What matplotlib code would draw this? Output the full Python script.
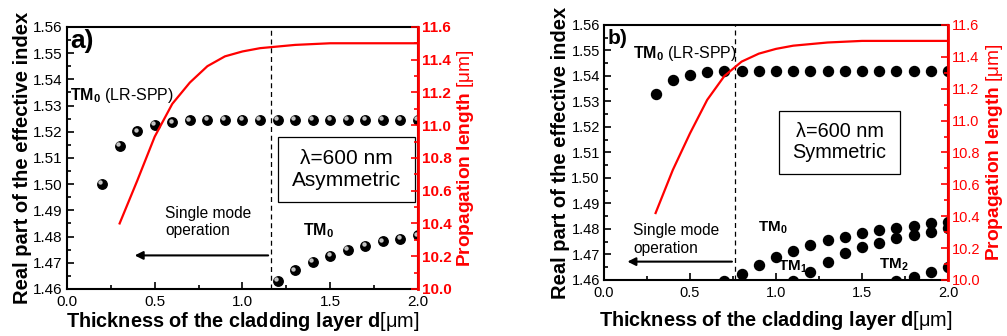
import numpy as np
import matplotlib
matplotlib.use("Agg")
import matplotlib.pyplot as plt
from matplotlib.ticker import MultipleLocator, FormatStrFormatter
from matplotlib.patches import Rectangle
from matplotlib.transforms import offset_copy

plt.rcParams['font.family'] = ['Liberation Sans', 'DejaVu Sans']
plt.rcParams['mathtext.fontset'] = 'custom'
plt.rcParams['mathtext.rm'] = 'Liberation Sans'
plt.rcParams['mathtext.bf'] = 'Liberation Sans:bold'
plt.rcParams['mathtext.it'] = 'Liberation Sans:italic'

# ---- panel a (asymmetric) ----
xa_lr = [0.2, 0.3, 0.4, 0.5, 0.6, 0.7, 0.8, 0.9, 1.0, 1.1, 1.2, 1.3, 1.4,
         1.5, 1.6, 1.7, 1.8, 1.9, 2.0]
na_lr = [1.500, 1.5146, 1.5202, 1.5225, 1.5236, 1.5244, 1.5245, 1.5245,
         1.5245, 1.5245, 1.5245, 1.5245, 1.5245, 1.5245, 1.5245, 1.5245,
         1.5245, 1.5245, 1.5245]
xa_tm0 = [1.2, 1.3, 1.4, 1.5, 1.6, 1.7, 1.8, 1.9, 2.0]
na_tm0 = [1.4632, 1.4671, 1.4703, 1.4727, 1.4750, 1.4765, 1.4782, 1.4792, 1.4804]
xa_L = [0.3, 0.4, 0.5, 0.6, 0.7, 0.8, 0.9, 1.0, 1.1, 1.2, 1.3, 1.5, 2.0]
La = [10.40, 10.66, 10.93, 11.13, 11.26, 11.36, 11.42, 11.45, 11.47,
      11.48, 11.49, 11.50, 11.50]
cut_a = 1.162

# ---- panel b (symmetric) ----
xb_lr = [0.3, 0.4, 0.5, 0.6, 0.7, 0.8, 0.9, 1.0, 1.1, 1.2, 1.3, 1.4, 1.5,
         1.6, 1.7, 1.8, 1.9, 2.0]
nb_lr = [1.5328, 1.5384, 1.5404, 1.5414, 1.5419, 1.5420, 1.5420, 1.5420,
         1.5420, 1.5420, 1.5420, 1.5420, 1.5420, 1.5420, 1.5420, 1.5420,
         1.5420, 1.5420]
xb_tm0 = [0.7, 0.8, 0.9, 1.0, 1.1, 1.2, 1.3, 1.4, 1.5, 1.6, 1.7, 1.8, 1.9, 2.0]
nb_tm0 = [1.4597, 1.4624, 1.4658, 1.4689, 1.4715, 1.4737, 1.4757, 1.4770,
          1.4784, 1.4796, 1.4805, 1.4813, 1.4822, 1.4826]
xb_tm1 = [1.1, 1.2, 1.3, 1.4, 1.5, 1.6, 1.7, 1.8, 1.9, 2.0]
nb_tm1 = [1.4597, 1.4633, 1.4672, 1.4705, 1.4729, 1.4747, 1.4765, 1.4778,
          1.4790, 1.4804]
xb_tm2 = [1.7, 1.8, 1.9, 2.0]
nb_tm2 = [1.4597, 1.4612, 1.4630, 1.4649]
xb_L = [0.3, 0.4, 0.5, 0.6, 0.7, 0.8, 0.9, 1.0, 1.1, 1.2, 1.3, 1.5, 2.0]
Lb = [10.42, 10.69, 10.92, 11.13, 11.28, 11.37, 11.42, 11.45, 11.47,
      11.48, 11.49, 11.50, 11.50]
cut_b = 0.76

fig = plt.figure(figsize=(10.07, 3.36), dpi=100)
axa = fig.add_axes([0.0665, 0.140, 0.3486, 0.780])
axb = fig.add_axes([0.5998, 0.1667, 0.3416, 0.759])

XLAB = r'Thickness of the cladding layer d$\mathrm{[\mu m]}$'
RLAB = r'Propagation length $\mathrm{[\mu m]}$'


def style(ax, tick_fs, bold_right, xpad):
    ax.set_xlim(0, 2.0)
    ax.set_ylim(1.46, 1.56)
    ax.xaxis.set_major_locator(MultipleLocator(0.5))
    ax.xaxis.set_minor_locator(MultipleLocator(0.25))
    ax.yaxis.set_major_locator(MultipleLocator(0.01))
    ax.yaxis.set_minor_locator(MultipleLocator(0.005))
    ax.yaxis.set_major_formatter(FormatStrFormatter('%.2f'))
    ax.xaxis.set_major_formatter(FormatStrFormatter('%.1f'))
    ax.tick_params(which='both', direction='in', top=False, right=False,
                   labelsize=tick_fs, width=1.2)
    ax.tick_params(axis='x', pad=4)
    ax.tick_params(axis='y', pad=3)
    ax.tick_params(which='major', length=5)
    ax.tick_params(which='minor', length=3)
    for s in ax.spines.values():
        s.set_linewidth(1.5)
    ax.set_xlabel(XLAB, fontsize=14.3, fontweight='bold', labelpad=xpad)
    ax.set_ylabel('Real part of the effective index', fontsize=14.5,
                  fontweight='bold', labelpad=1)
    tw = ax.twinx()
    tw.set_ylim(10.0, 11.6)
    tw.yaxis.set_major_locator(MultipleLocator(0.2))
    tw.yaxis.set_minor_locator(MultipleLocator(0.1))
    tw.yaxis.set_major_formatter(FormatStrFormatter('%.1f'))
    tw.tick_params(which='both', direction='in', colors='red',
                   labelsize=tick_fs, width=1.2, pad=3)
    tw.tick_params(which='major', length=5)
    tw.tick_params(which='minor', length=3)
    if bold_right:
        for t in tw.get_yticklabels():
            t.set_fontweight('bold')
    tw.spines['right'].set_color('red')
    tw.spines['right'].set_linewidth(2)
    for k in ['left', 'top', 'bottom']:
        tw.spines[k].set_visible(False)
    tw.set_ylabel(RLAB, color='red', fontsize=13.8, fontweight='bold',
                  labelpad=2)
    return tw


def note_box(ax, x0, y0, x1, y1, text, fs):
    ax.add_patch(Rectangle((x0, y0), x1 - x0, y1 - y0, fc='white',
                           ec='black', lw=0.9, zorder=2))
    ax.text((x0 + x1) / 2, (y0 + y1) / 2, text, fontsize=fs, ha='center',
            va='center', linespacing=1.15, zorder=3)


# panel a
twa = style(axa, 11, True, 1)
for xs, ys in [(xa_lr, na_lr), (xa_tm0, na_tm0)]:
    axa.plot(xs, ys, 'o', color='black', ms=6.8, zorder=3)
    hl = offset_copy(axa.transData, fig=fig, x=-1.2, y=1.2, units='points')
    axa.plot(xs, ys, 'o', color='#d0d0d0', ms=2.2, alpha=0.9,
             transform=hl, zorder=4)
twa.plot(xa_L, La, color='red', lw=1.6)
axa.axvline(cut_a, color='black', ls=(0, (4, 3)), lw=0.9)
axa.annotate('', xy=(0.37, 1.4728), xytext=(cut_a, 1.4728),
             arrowprops=dict(arrowstyle='-|>', color='black', lw=1.5,
                             mutation_scale=12))
axa.text(0.02, 1.5548, 'a)', fontsize=19, fontweight='bold', va='center')
axa.text(0.02, 1.534, r'$\mathbf{TM_0}$ (LR-SPP)', fontsize=11.5,
         va='center')
axa.text(0.56, 1.4855, 'Single mode\noperation', fontsize=11.2, va='center',
         linespacing=1.2)
axa.text(1.345, 1.4822, r'$\mathbf{TM_0}$', fontsize=11.5, va='center')
note_box(axa, 1.2, 1.4932, 1.985, 1.518, u'\u03bb=600 nm\nAsymmetric', 15)

# panel b
twb = style(axb, 10.5, False, 7)
for xs, ys in [(xb_lr, nb_lr), (xb_tm0, nb_tm0), (xb_tm1, nb_tm1),
               (xb_tm2, nb_tm2)]:
    axb.plot(xs, ys, 'o', color='black', ms=7.2, zorder=3)
twb.plot(xb_L, Lb, color='red', lw=1.6)
axb.axvline(cut_b, color='black', ls=(0, (4, 3)), lw=0.9)
axb.annotate('', xy=(0.12, 1.4672), xytext=(cut_b, 1.4672),
             arrowprops=dict(arrowstyle='-|>', color='black', lw=1.5,
                             mutation_scale=12))
axb.text(0.02, 1.5545, 'b)', fontsize=15, fontweight='bold', va='center')
axb.text(0.17, 1.549, r'$\mathbf{TM_0}$ (LR-SPP)', fontsize=11.5,
         va='center')
axb.text(0.17, 1.4758, 'Single mode\noperation', fontsize=11.2, va='center',
         linespacing=1.2)
axb.text(0.895, 1.4806, r'$\mathbf{TM_0}$', fontsize=11, va='center')
axb.text(1.01, 1.4652, r'$\mathbf{TM_1}$', fontsize=11, va='center')
axb.text(1.60, 1.4659, r'$\mathbf{TM_2}$', fontsize=11, va='center')
note_box(axb, 1.016, 1.5016, 1.723, 1.5264, u'\u03bb=600 nm\nSymmetric', 14.3)

fig.savefig('out.png', dpi=100)
